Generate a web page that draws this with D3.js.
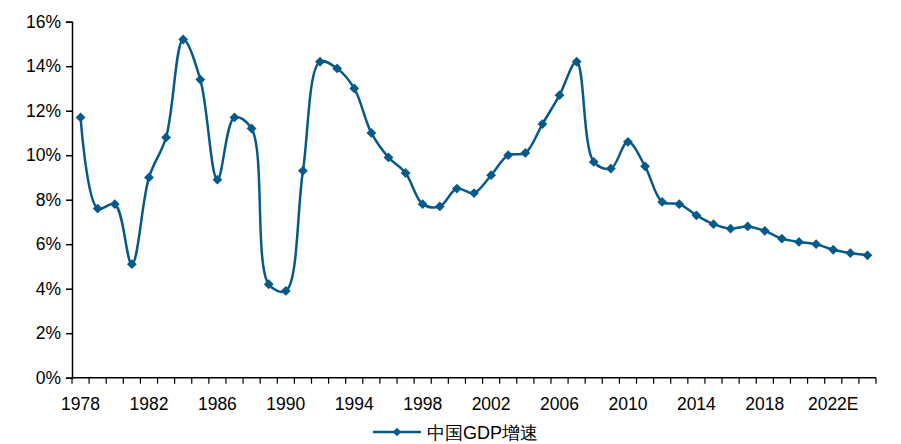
<!DOCTYPE html>
<html><head><meta charset="utf-8">
<script src="https://cdn.jsdelivr.net/npm/d3@7"></script>
<style>body{margin:0;background:#fff}svg{display:block}text{font-family:"Liberation Sans",Arial,sans-serif;fill:#000}</style>
</head><body><svg id="c" width="901" height="444"></svg>
<script>
const years = d3.range(1978, 2025).map(String);
const growth = [11.7,7.6,7.8,5.1,9.0,10.8,15.2,13.4,8.9,11.7,11.2,4.2,3.9,9.3,14.2,13.9,13.0,11.0,9.9,9.2,7.8,7.7,8.5,8.3,9.1,10.0,10.1,11.4,12.7,14.2,9.7,9.4,10.6,9.5,7.9,7.8,7.3,6.9,6.7,6.8,6.6,6.25,6.1,6.0,5.75,5.6,5.5];
const yTicks = [0,2,4,6,8,10,12,14,16];
const xLabels = {"1978":"1978","1982":"1982","1986":"1986","1990":"1990","1994":"1994","1998":"1998","2002":"2002","2006":"2006","2010":"2010","2014":"2014","2018":"2018","2022":"2022E"};
const seriesName = "中国GDP增速";
const color = "#065a8a";

const svg = d3.select("#c");
const x = d3.scaleBand().domain(years).range([72, 876]);
const y = d3.scaleLinear().domain([0,16]).range([377.7, 21.7]);

// y axis
const ya = svg.append("g").attr("transform","translate(72,0)")
  .call(d3.axisLeft(y).tickValues(yTicks).tickSize(6).tickPadding(5).tickFormat(d=>d+"%"));
ya.selectAll("text").style("font-size","17.5px");
ya.selectAll("line,path").attr("stroke","#000").attr("stroke-width",1.5);

// x axis: ticks at boundaries
const xg = svg.append("g").attr("transform","translate(0,377.7)");
xg.append("line").attr("x1",72).attr("x2",876).attr("stroke","#000").attr("stroke-width",1.5);
const bounds = years.map(d=>x(d)).concat([x(years[years.length-1])+x.bandwidth()]);
xg.selectAll("line.t").data(bounds).join("line").attr("class","t")
  .attr("x1",d=>d).attr("x2",d=>d).attr("y1",0).attr("y2",6).attr("stroke","#000").attr("stroke-width",1.2);
xg.selectAll("text").data(years.filter(d=>xLabels[d])).join("text")
  .attr("x",d=>x(d)+x.bandwidth()/2).attr("y",32).attr("text-anchor","middle")
  .style("font-size","17.5px").text(d=>xLabels[d]);

// line
const data = years.map((d,i)=>({yr:d,v:growth[i]}));
const line = d3.line().x(d=>x(d.yr)+x.bandwidth()/2).y(d=>y(d.v)).curve(d3.curveCatmullRom.alpha(0.5));
svg.append("path").datum(data).attr("d",line).attr("fill","none").attr("stroke",color).attr("stroke-width",2.5);
const diamond = d3.symbol().type(d3.symbolSquare).size(48);
svg.selectAll("path.m").data(data).join("path").attr("class","m")
  .attr("transform",d=>`translate(${x(d.yr)+x.bandwidth()/2},${y(d.v)}) rotate(45)`)
  .attr("d",diamond).attr("fill",color);

// legend
const lg = svg.append("g").attr("transform","translate(0,432)");
lg.append("line").attr("x1",373).attr("x2",421).attr("stroke",color).attr("stroke-width",2.5);
lg.append("path").attr("transform","translate(397,0) rotate(45)").attr("d",d3.symbol().type(d3.symbolSquare).size(36)).attr("fill",color);
lg.append("text").attr("x",427).attr("y",6.5).style("font-size","18px").text(seriesName);
</script></body></html>
